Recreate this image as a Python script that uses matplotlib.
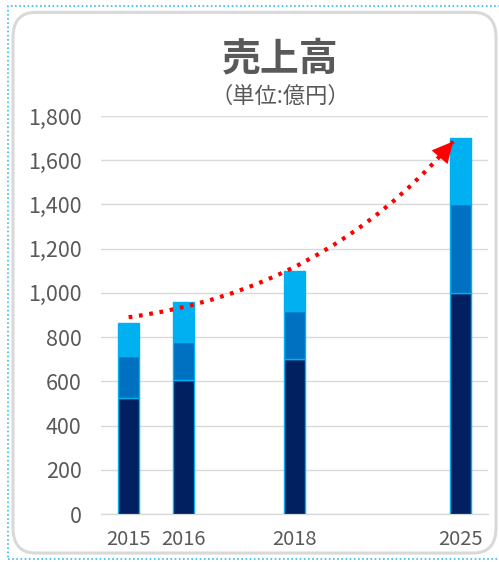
"""
売上高 stacked bar chart (単位:億円) with a red dotted growth arrow.
"""

import matplotlib
matplotlib.use("Agg")
import matplotlib.pyplot as plt
from matplotlib.patches import FancyArrowPatch, FancyBboxPatch, Rectangle

plt.rcParams["font.family"] = ["Noto Sans CJK JP", "DejaVu Sans"]

# --- data ---
slots = ["2015", "2016", "", "2018", "", "", "2025"]
bar_slots = [0, 1, 3, 6]
seg_dark = [525, 605, 700, 1000]
seg_mid = [190, 175, 220, 400]
seg_light = [150, 180, 180, 300]
yticks = [0, 200, 400, 600, 800, 1000, 1200, 1400, 1600, 1800]

trend_start = (0.0, 890)
trend_end = (5.87, 1685)

TEXT_GRAY = "#595959"
C_DARK = "#002060"
C_MID = "#0070C0"
C_LIGHT = "#00B0F0"
EDGE = "#00B0F0"

fig = plt.figure(figsize=(4.99, 5.62), dpi=100)

# outer frames
fig.patches.append(Rectangle((0.017, 0.006), 0.99, 0.983, transform=fig.transFigure,
                             fill=False, edgecolor="#33BBEE", linestyle=(0, (1, 1.5)),
                             linewidth=1.2))
fig.patches.append(FancyBboxPatch((0.026, 0.016), 0.968, 0.962,
                                  boxstyle="round,pad=0,rounding_size=0.045",
                                  transform=fig.transFigure, fill=False,
                                  edgecolor="#D9D9D9", linewidth=2.2))

ax = fig.add_axes([0.2024, 0.0854, 0.7756, 0.7082])

bottom_mid = [a for a in seg_dark]
bottom_light = [a + b for a, b in zip(seg_dark, seg_mid)]
w = 0.38
ax.bar(bar_slots, seg_dark, width=w, color=C_DARK, edgecolor=EDGE, linewidth=1.0, zorder=3)
ax.bar(bar_slots, seg_mid, width=w, bottom=bottom_mid, color=C_MID, edgecolor=EDGE,
       linewidth=1.0, zorder=3)
ax.bar(bar_slots, seg_light, width=w, bottom=bottom_light, color=C_LIGHT, edgecolor=EDGE,
       linewidth=1.0, zorder=3)

# growth arrow: dotted curve + solid head
curve = FancyArrowPatch(trend_start, trend_end, connectionstyle="arc3,rad=0.19",
                        arrowstyle="-", color="#FF0000", linestyle=(0, (0.9, 1.6)),
                        linewidth=3.0, capstyle="butt", zorder=5, shrinkA=0, shrinkB=0)
ax.add_patch(curve)
head = FancyArrowPatch(trend_start, trend_end, connectionstyle="arc3,rad=0.19",
                       arrowstyle="-|>,head_length=15,head_width=7.5", color="#FF0000",
                       linewidth=0, zorder=6, shrinkA=0, shrinkB=0)
ax.add_patch(head)

ax.set_xlim(-0.5, len(slots) - 0.5)
ax.set_ylim(0, 1800)
ax.set_xticks(range(len(slots)))
ax.set_xticklabels(slots)
ax.set_yticks(yticks)
ax.set_yticklabels([f"{v:,}" for v in yticks])
ax.tick_params(axis="both", length=0, colors=TEXT_GRAY)
ax.tick_params(axis="y", pad=14, labelsize=15.5)
ax.tick_params(axis="x", pad=11, labelsize=14.5)
ax.grid(axis="y", color="#D9D9D9", linewidth=1.0, zorder=0)
for side in ["top", "right", "left"]:
    ax.spines[side].set_visible(False)
ax.spines["bottom"].set_color("#D9D9D9")
ax.spines["bottom"].set_linewidth(1.0)

fig.text(0.561, 0.896, "売上高", ha="center", va="center", fontsize=28,
         fontweight="bold", color=TEXT_GRAY)
fig.text(0.561, 0.829, "（単位:億円）", ha="center", va="center", fontsize=16,
         color=TEXT_GRAY)

fig.savefig("out.png", dpi=100)
